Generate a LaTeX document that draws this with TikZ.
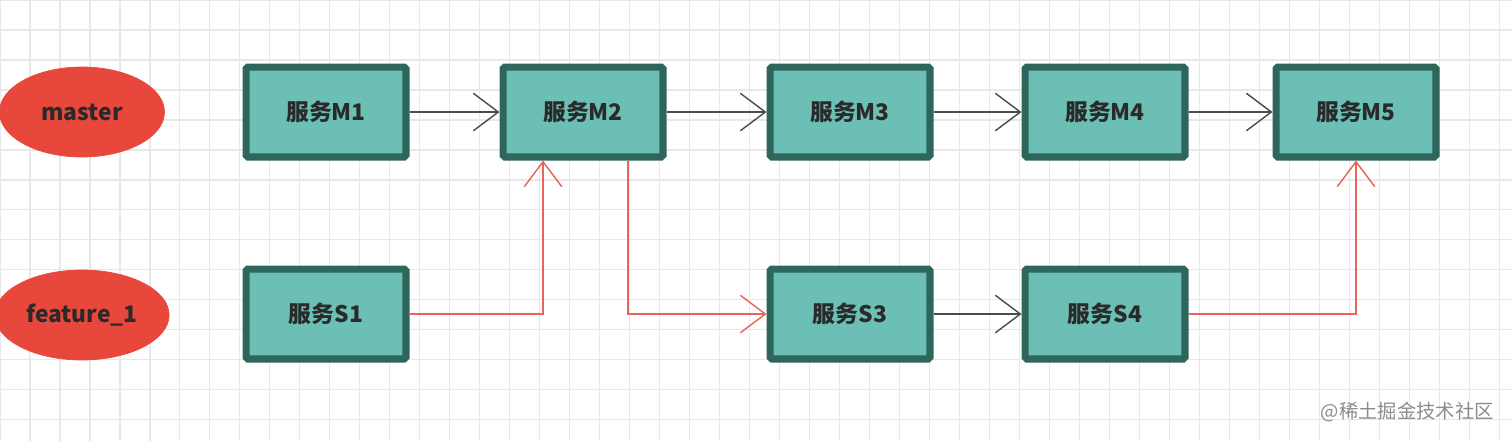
\documentclass[tikz,border=0pt]{standalone}
\usepackage{fontspec}
\setmainfont{Noto Sans CJK SC}
\usetikzlibrary{arrows.meta}
\definecolor{boxfill}{HTML}{6CBFB5}
\definecolor{boxedge}{HTML}{2F665C}
\definecolor{redl}{HTML}{E8645C}
\definecolor{ellred}{HTML}{E8473C}
\definecolor{txt}{HTML}{2A2A2A}
\tikzset{
  x=0.02cm,y=-0.02cm,
  svc/.style={draw=boxedge,line width=4pt,fill=boxfill,rounded corners=1pt,minimum width=3.2cm,minimum height=1.8cm,font=\fontsize{13}{15}\selectfont\bfseries,text=txt},
  br/.style={draw=ellred,fill=ellred,ellipse,minimum width=3.3cm,minimum height=1.8cm,font=\fontsize{13}{15}\selectfont\bfseries,text=txt},
  tip/.style={-{Straight Barb[length=0.5cm,width=0.75cm,line width=0.8pt]}},
  blk/.style={draw=black!70,line width=1pt,tip},
  red/.style={draw=redl,line width=1pt,tip},
}
\usetikzlibrary{shapes.geometric}
\begin{document}
\begin{tikzpicture}
\useasboundingbox (0,0) rectangle (1512,441);
\fill[white] (0,0) rectangle (1512,441);
\draw[black!9,line width=0.6pt,step=0.6cm] (0,0) grid (1512,441);
\node[br] (master) at (82,112) {master};
\node[br] (feat) at (82,315) {feature\_1};
\node[svc] (m1) at (326,112) {服务M1};
\node[svc] (m2) at (583,112) {服务M2};
\node[svc] (m3) at (850,112) {服务M3};
\node[svc] (m4) at (1105,112) {服务M4};
\node[svc] (m5) at (1356,112) {服务M5};
\node[svc] (s1) at (326,314) {服务S1};
\node[svc] (s3) at (850,314) {服务S3};
\node[svc] (s4) at (1105,314) {服务S4};
\draw[blk] (m1) -- (m2);
\draw[blk] (m2) -- (m3);
\draw[blk] (m3) -- (m4);
\draw[blk] (m4) -- (m5);
\draw[blk] (s3) -- (s4);
\draw[red] (s1.east) -| ([xshift=-0.8cm]m2.south);
\draw[red] ([xshift=0.9cm]m2.south) |- (s3.west);
\draw[red] (s4.east) -| (m5.south);
\node[text=black!45,font=\fontsize{11}{13}\selectfont,anchor=east] (wm) at (1500,412) {@稀土掘金技术社区};
\end{tikzpicture}
\end{document}
